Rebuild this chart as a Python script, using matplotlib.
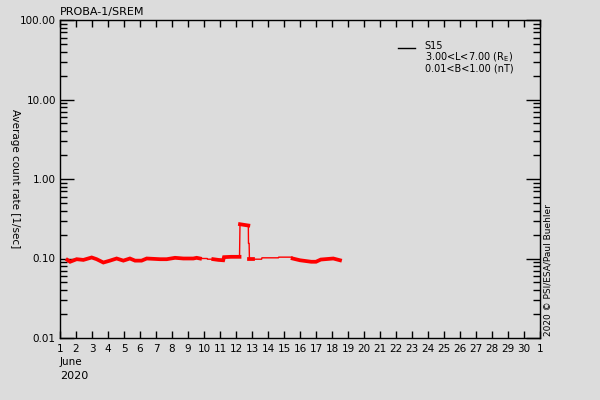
import numpy as np
import matplotlib
matplotlib.use("Agg")
import matplotlib.pyplot as plt
from matplotlib.ticker import FixedLocator, NullFormatter, LogLocator

# ---- data ----
days = [1.46, 1.63, 2.04, 2.46, 2.98, 3.29, 3.71, 4.12, 4.54, 4.96, 5.37, 5.69,
        6.10, 6.42, 7.25, 7.67, 8.19, 8.71, 9.33, 9.54, 9.75,
        10.20, 10.22, 10.58, 10.90, 11.20, 11.25, 11.70, 12.22,
        12.25, 12.50, 12.77, 12.78, 12.82, 12.84, 13.06,
        13.60, 13.62, 14.65, 14.67, 15.52,
        15.54, 16.00, 16.70, 17.00, 17.30, 18.08, 18.50]
rate = [0.096, 0.091, 0.098, 0.096, 0.103, 0.098, 0.089, 0.094, 0.100, 0.094, 0.100, 0.094,
        0.094, 0.100, 0.098, 0.098, 0.102, 0.100, 0.100, 0.102, 0.100,
        0.100, 0.098, 0.098, 0.096, 0.095, 0.104, 0.105, 0.105,
        0.270, 0.265, 0.260, 0.155, 0.155, 0.098, 0.098,
        0.098, 0.102, 0.102, 0.104, 0.104,
        0.100, 0.095, 0.091, 0.091, 0.097, 0.100, 0.095]
dense_windows = [(1.46, 9.75), (10.58, 12.22), (12.25, 12.77), (12.84, 13.06), (15.54, 18.50)]

xtick_days = list(range(1, 32))
xtick_labels = [str(d) for d in range(1, 31)] + ["1"]
ytick_vals = [0.01, 0.1, 1, 10, 100]
ytick_labels = ["0.01", "0.10", "1.00", "10.00", "100.00"]
legend_lines = ["S15", "3.00<L<7.00 (R$_\\mathregular{E}$)", "0.01<B<1.00 (nT)"]

bg = "#dcdcdc"
fig = plt.figure(figsize=(6, 4), dpi=100, facecolor=bg)
ax = fig.add_axes([0.1, 0.155, 0.8, 0.795], facecolor=bg)

t = np.array(days)
r = np.array(rate)
ax.plot(t, r, color="red", lw=1.0)
for a, b in dense_windows:
    m = (t >= a - 1e-9) & (t <= b + 1e-9)
    ax.plot(t[m], r[m], color="red", lw=2.7, solid_joinstyle="miter")

ax.set_yscale("log")
ax.set_ylim(0.01, 100)
ax.set_xlim(1, 31)

ax.yaxis.set_major_locator(FixedLocator(ytick_vals))
ax.set_yticklabels(ytick_labels)
ax.yaxis.set_minor_locator(LogLocator(base=10, subs=np.arange(2, 10)))
ax.yaxis.set_minor_formatter(NullFormatter())
ax.set_xticks(xtick_days)
ax.set_xticklabels(xtick_labels)

ax.tick_params(axis="both", which="both", direction="in", top=True, right=True,
               colors="black", labelsize=7.5, width=1)
ax.tick_params(axis="y", which="major", length=10, pad=3)
ax.tick_params(axis="y", which="minor", length=5)
ax.tick_params(axis="x", which="major", length=5, pad=4)
for s in ax.spines.values():
    s.set_linewidth(1)
    s.set_color("black")

ax.set_ylabel("Average count rate [1/sec]", rotation=270, fontsize=7.5)
ax.yaxis.set_label_coords(-0.105, 0.5)

fig.text(0.1, 0.958, "PROBA-1/SREM", fontsize=8, ha="left", va="bottom")
fig.text(0.1, 0.095, "June", fontsize=7.5, ha="left", va="center")
fig.text(0.1, 0.06, "2020", fontsize=8, ha="left", va="center")
fig.text(0.913, 0.16, "2020 \u00a9 PSI/ESA/Paul Buehler", rotation=90, fontsize=6.5,
         ha="center", va="bottom")

# legend
ax.plot([0.705, 0.74], [0.913, 0.913], transform=ax.transAxes, color="black", lw=1)
ax.text(0.76, 0.935, "\n".join(legend_lines), transform=ax.transAxes, fontsize=7,
        va="top", ha="left", linespacing=0.95)

fig.savefig("out.png", dpi=100, facecolor=bg)
